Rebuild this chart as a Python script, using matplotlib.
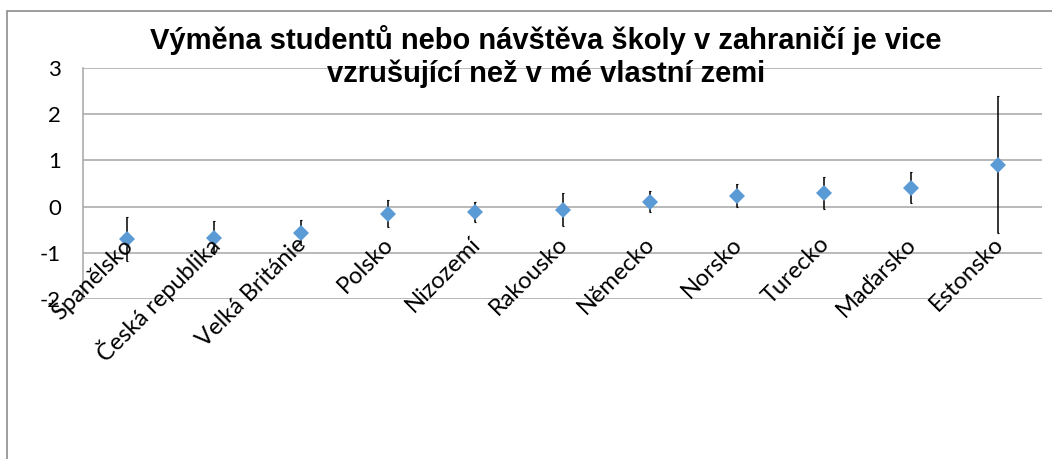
import numpy as np
import matplotlib
matplotlib.use("Agg")
import matplotlib.pyplot as plt
from matplotlib.patches import Rectangle

# data
zeme = ["Španělsko", "Česká republika", "Velká Británie", "Polsko", "Nizozemí",
        "Rakousko", "Německo", "Norsko", "Turecko", "Maďarsko", "Estonsko"]
prumer = [-0.70, -0.67, -0.57, -0.15, -0.12, -0.07, 0.11, 0.24, 0.30, 0.41, 0.91]
chyba = [0.47, 0.36, 0.27, 0.29, 0.21, 0.36, 0.22, 0.24, 0.35, 0.33, 1.48]
y_ticks = [-2, -1, 0, 1, 2, 3]

titulek = ("Výměna studentů nebo návštěva školy v zahraničí je vice\n"
           "vzrušující než v mé vlastní zemi")

W, H = 1052, 459
fig = plt.figure(figsize=(W / 100, H / 100), dpi=100)
ax = fig.add_axes([83 / W, 1 - 299 / H, (1042 - 83) / W, (299 - 68) / H])

x = np.arange(len(zeme))
ax.errorbar(x, prumer, yerr=chyba, fmt="none", ecolor="black", elinewidth=1.1,
            capsize=1, capthick=0.8, zorder=3)
ax.plot(x, prumer, linestyle="none", marker="D", markersize=8.5,
        color="#5B9BD5", markeredgewidth=0, zorder=4)

ax.set_xlim(-0.5, len(zeme) - 0.5)
ax.set_ylim(-2, 3)
ax.set_yticks(y_ticks)
ax.set_yticklabels([str(v) for v in y_ticks], fontsize=16, family=["Lato", "DejaVu Sans"])
ax.tick_params(axis="y", length=0, pad=16)
ax.set_xticks([])
ax.grid(axis="y", color="#A6A6A6", linewidth=1.1)
ax.set_axisbelow(True)
for s in ["top", "right", "bottom"]:
    ax.spines[s].set_visible(False)
ax.spines["left"].set_color("#A6A6A6")
ax.spines["left"].set_linewidth(1.1)

# category labels sit inside the plot, rotated
for i, nazev in enumerate(zeme):
    ax.text(i + 0.02, -0.74, nazev, rotation=45, rotation_mode="anchor",
            ha="right", va="center", fontsize=17, family=["Lato", "DejaVu Sans"],
            zorder=5)

fig.text(546 / W, 1 - 25 / H, titulek, ha="center", va="top", fontsize=21,
         fontweight="bold", family=["Liberation Sans", "DejaVu Sans"], linespacing=1.18)

# outer chart frame (cut off at the right and bottom)
fig.patches.append(Rectangle((7 / W, -0.1), 1.2, 1.1 - 11 / H, transform=fig.transFigure,
                             fill=False, edgecolor="#8C8C8C", linewidth=1.2))

fig.savefig("out.png", dpi=100)
